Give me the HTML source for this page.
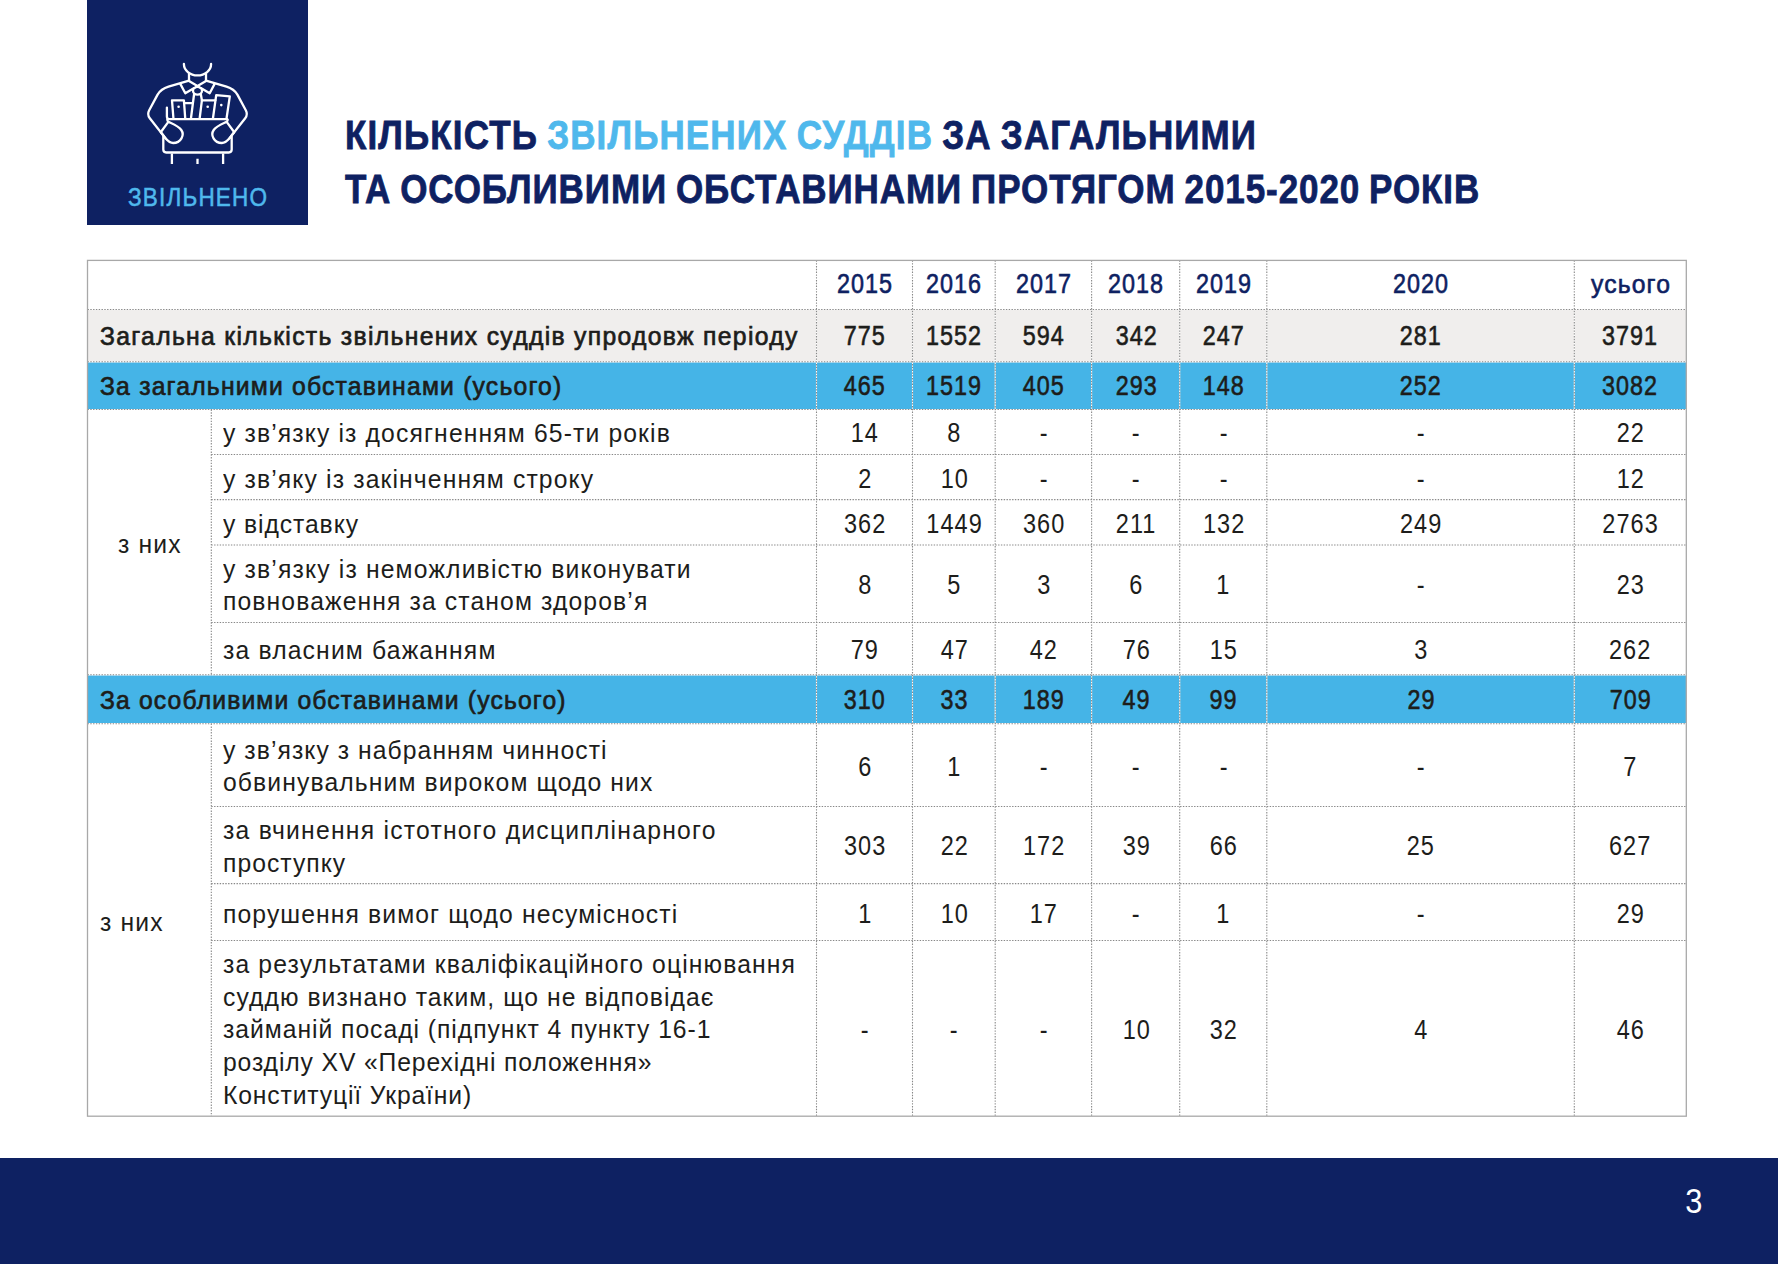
<!DOCTYPE html>
<html lang="uk"><head><meta charset="utf-8"><title>Кількість звільнених суддів</title>
<style>
html,body{margin:0;padding:0}
body{width:1778px;height:1264px;position:relative;overflow:hidden;background:#fff;font-family:"Liberation Sans", sans-serif;color:#1d1d1b}
.a{position:absolute}
.t{position:absolute;white-space:nowrap;line-height:1;font-size:26px}
.t span{display:inline-block;transform-origin:0 0;white-space:nowrap}
.c{position:absolute;width:200px;text-align:center;white-space:nowrap;line-height:1;font-size:28px}
.c span{display:inline-block;transform-origin:50% 0;transform:scaleX(0.84);letter-spacing:1.2px;margin-right:-1.2px}
.m span{-webkit-text-stroke-width:0.7px}
.c.m,.c.h{font-size:27.5px}
.c.m span,.c.h span{transform:scaleX(0.85);-webkit-text-stroke-width:0.6px}
.h{color:#0e2162}
</style></head><body>
<div class="a" style="left:87px;top:0;width:221px;height:225px;background:#0e2162"></div>
<svg class="a" style="left:87px;top:0" width="221" height="224" viewBox="87 0 221 224" fill="none" stroke="#fff" stroke-width="2.3" stroke-linecap="round" stroke-linejoin="round">
<path d="M183.9 64A13.6 11.4 0 0 0 211.1 64"/>
<path d="M189 73.5V80.6M206 73.5V80.6"/>
<path d="M189 80.6L168.5 86.6Q161 88.8 157.6 94.6L149.2 110.2Q146.9 114.4 149.8 118.2L165.6 138.4"/>
<path d="M206 80.6L226.5 86.6Q234 88.8 237.4 94.6L245.8 110.2Q248.1 114.4 245.2 118.2L229.4 138.4"/>
<path d="M189 80.9L209.7 93.2L214.6 83.9M206 80.9L185.3 93.2L180.3 83.9"/>
<ellipse cx="197.5" cy="90.8" rx="4.5" ry="3.9"/>
<path d="M194.1 94L191 118M200.8 94L201.9 100.2"/>
<path d="M173.4 118L172 100.3H183.9L185.2 118"/>
<path d="M184.2 103.1H192.8"/>
<path d="M199.7 118L201.9 100.3H215.4"/>
<path d="M213 118L216.2 95.1L229.8 96.4L226.6 118"/>
<circle cx="178.6" cy="106.7" r="1.3" fill="#fff" stroke="none"/><circle cx="207.7" cy="106.7" r="1.3" fill="#fff" stroke="none"/><circle cx="221.3" cy="105.1" r="1.3" fill="#fff" stroke="none"/>
<path d="M166.9 107.6V116.4Q166.9 119.1 169.6 119.1H227.2"/>
<path d="M167.3 119.8L168 121.6C173 124 178.5 126 181.3 130C184.8 135 181 143 173.1 143C169.5 143 167.5 140.6 165.6 138.4L160.9 132.2"/>
<path d="M227.7 119.8L227 121.6C222 124 216.5 126 213.7 130C210.2 135 214 143 221.9 143C225.5 143 227.5 140.6 229.4 138.4L234.1 132.2"/>
<path d="M160.9 132L167.8 122.6M234.1 132L227.2 122.6"/>
<path d="M163.3 136.5V149.6Q163.3 152.5 166.2 152.5H228.8Q231.7 152.5 231.7 149.6V136.5"/>
<path d="M171.9 153.5V163.9M223.1 153.5V163.9M197.5 158.8V163.9" stroke-linecap="butt"/>
</svg>
<div class="t" style="left:127.5px;top:184.74px;font-size:25px;color:#4fb8ec"><span style="transform:scaleX(0.9);letter-spacing:1.335px;-webkit-text-stroke-width:0.55px">ЗВІЛЬНЕНО</span></div>
<div class="t" style="left:344.8px;top:114.65px;font-size:40.7px;font-weight:700;color:#0e2162"><span style="transform:scaleX(0.86);letter-spacing:1.321px;word-spacing:-2px;-webkit-text-stroke-width:0.8px">КІЛЬКІСТЬ <b style="color:#4fb8ec">ЗВІЛЬНЕНИХ СУДДІВ</b> ЗА ЗАГАЛЬНИМИ</span></div>
<div class="t" style="left:344.7px;top:168.65px;font-size:40.7px;font-weight:700;color:#0e2162"><span style="transform:scaleX(0.86);letter-spacing:1.079px;word-spacing:-2px;-webkit-text-stroke-width:0.8px">ТА ОСОБЛИВИМИ ОБСТАВИНАМИ ПРОТЯГОМ 2015-2020 РОКІВ</span></div>
<svg class="a" style="left:0;top:0" width="1778" height="1264" viewBox="0 0 1778 1264"><rect x="87.5" y="310" width="1598.8" height="51.5" fill="#f0eeed"/><rect x="87.5" y="362.4" width="1598.8" height="46.6" fill="#45b4e7"/><rect x="87.5" y="675.4" width="1598.8" height="47.6" fill="#45b4e7"/><path d="M87.5 309.5H1686.3M87.5 361.8H1686.3M87.5 409.5H1686.3M211.3 454.5H1686.3M211.3 499.6H1686.3M211.3 545.0H1686.3M211.3 622.5H1686.3M87.5 674.7H1686.3M87.5 723.7H1686.3M211.3 806.5H1686.3M211.3 883.6H1686.3M211.3 940.5H1686.3M816.5 260.4V1116.2M912.5 260.4V1116.2M995.2 260.4V1116.2M1091.6 260.4V1116.2M1179.7 260.4V1116.2M1266.8 260.4V1116.2M1574.3 260.4V1116.2M211.3 409.5V674.7M211.3 723.7V1116.2" fill="none" stroke="#fff" stroke-width="1.1"/><path d="M87.5 309.5H1686.3M87.5 361.8H1686.3M87.5 409.5H1686.3M211.3 454.5H1686.3M211.3 499.6H1686.3M211.3 545.0H1686.3M211.3 622.5H1686.3M87.5 674.7H1686.3M87.5 723.7H1686.3M211.3 806.5H1686.3M211.3 883.6H1686.3M211.3 940.5H1686.3M816.5 260.4V1116.2M912.5 260.4V1116.2M995.2 260.4V1116.2M1091.6 260.4V1116.2M1179.7 260.4V1116.2M1266.8 260.4V1116.2M1574.3 260.4V1116.2M211.3 409.5V674.7M211.3 723.7V1116.2" fill="none" stroke="#888" stroke-width="1.1" stroke-dasharray="1.4 1.4"/><rect x="87.5" y="260.4" width="1598.8" height="855.8" fill="none" stroke="#a8a8a8" stroke-width="1.3"/></svg>
<div class="t m" style="left:99.6px;top:323.00px"><span style="transform:scaleX(0.95);letter-spacing:1.395px">Загальна кількість звільнених суддів упродовж періоду</span></div>
<div class="t m" style="left:99.6px;top:373.00px"><span style="transform:scaleX(0.95);letter-spacing:1.269px">За загальними обставинами (усього)</span></div>
<div class="t" style="left:223.2px;top:420.00px"><span style="transform:scaleX(0.95);letter-spacing:1.193px">у зв’язку із досягненням 65-ти років</span></div>
<div class="t" style="left:223.2px;top:466.00px"><span style="transform:scaleX(0.95);letter-spacing:1.199px">у зв’яку із закінченням строку</span></div>
<div class="t" style="left:223.2px;top:511.00px"><span style="transform:scaleX(0.95);letter-spacing:0.956px">у відставку</span></div>
<div class="t" style="left:223.2px;top:556.00px"><span style="transform:scaleX(0.95);letter-spacing:1.223px">у зв’язку із неможливістю виконувати</span></div>
<div class="t" style="left:223.2px;top:588.00px"><span style="transform:scaleX(0.95);letter-spacing:1.181px">повноваження за станом здоров’я</span></div>
<div class="t" style="left:223.2px;top:637.00px"><span style="transform:scaleX(0.95);letter-spacing:1.223px">за власним бажанням</span></div>
<div class="t m" style="left:99.6px;top:687.00px"><span style="transform:scaleX(0.95);letter-spacing:1.203px">За особливими обставинами (усього)</span></div>
<div class="t" style="left:223.2px;top:737.00px"><span style="transform:scaleX(0.95);letter-spacing:1.119px">у зв’язку з набранням чинності</span></div>
<div class="t" style="left:223.2px;top:769.00px"><span style="transform:scaleX(0.95);letter-spacing:1.171px">обвинувальним вироком щодо них</span></div>
<div class="t" style="left:223.2px;top:817.00px"><span style="transform:scaleX(0.95);letter-spacing:1.307px">за вчинення істотного дисциплінарного</span></div>
<div class="t" style="left:223.2px;top:850.00px"><span style="transform:scaleX(0.95);letter-spacing:1.072px">проступку</span></div>
<div class="t" style="left:223.2px;top:901.00px"><span style="transform:scaleX(0.95);letter-spacing:1.161px">порушення вимог щодо несумісності</span></div>
<div class="t" style="left:223.2px;top:951.00px"><span style="transform:scaleX(0.95);letter-spacing:1.189px">за результатами кваліфікаційного оцінювання</span></div>
<div class="t" style="left:223.2px;top:984.00px"><span style="transform:scaleX(0.95);letter-spacing:1.110px">суддю визнано таким, що не відповідає</span></div>
<div class="t" style="left:223.2px;top:1016.00px"><span style="transform:scaleX(0.95);letter-spacing:1.018px">займаній посаді (підпункт 4 пункту 16-1</span></div>
<div class="t" style="left:223.2px;top:1049.00px"><span style="transform:scaleX(0.95);letter-spacing:0.927px">розділу XV «Перехідні положення»</span></div>
<div class="t" style="left:223.2px;top:1082.00px"><span style="transform:scaleX(0.95);letter-spacing:0.902px">Конституції України)</span></div>
<div class="t" style="left:117.5px;top:531.00px"><span style="transform:scaleX(0.95);letter-spacing:1.216px">з них</span></div>
<div class="t" style="left:99.6px;top:909.00px"><span style="transform:scaleX(0.95);letter-spacing:1.216px">з них</span></div>
<div class="c h" style="left:764.5px;top:269.75px"><span>2015</span></div>
<div class="c h" style="left:853.9px;top:269.75px"><span>2016</span></div>
<div class="c h" style="left:943.4px;top:269.75px"><span>2017</span></div>
<div class="c h" style="left:1035.7px;top:269.75px"><span>2018</span></div>
<div class="c h" style="left:1123.2px;top:269.75px"><span>2019</span></div>
<div class="c h" style="left:1320.5px;top:269.75px"><span>2020</span></div>
<div class="c h" style="left:1530.5px;top:271.00px;font-size:26px"><span style="transform:scaleX(0.95);letter-spacing:1.171px;margin-right:-1.171px">усього</span></div>
<div class="c m" style="left:764.5px;top:321.75px"><span>775</span></div>
<div class="c m" style="left:853.9px;top:321.75px"><span>1552</span></div>
<div class="c m" style="left:943.4px;top:321.75px"><span>594</span></div>
<div class="c m" style="left:1035.7px;top:321.75px"><span>342</span></div>
<div class="c m" style="left:1123.2px;top:321.75px"><span>247</span></div>
<div class="c m" style="left:1320.5px;top:321.75px"><span>281</span></div>
<div class="c m" style="left:1529.7px;top:321.75px"><span>3791</span></div>
<div class="c m" style="left:764.5px;top:371.75px"><span>465</span></div>
<div class="c m" style="left:853.9px;top:371.75px"><span>1519</span></div>
<div class="c m" style="left:943.4px;top:371.75px"><span>405</span></div>
<div class="c m" style="left:1035.7px;top:371.75px"><span>293</span></div>
<div class="c m" style="left:1123.2px;top:371.75px"><span>148</span></div>
<div class="c m" style="left:1320.5px;top:371.75px"><span>252</span></div>
<div class="c m" style="left:1529.7px;top:371.75px"><span>3082</span></div>
<div class="c" style="left:764.5px;top:418.50px"><span>14</span></div>
<div class="c" style="left:853.9px;top:418.50px"><span>8</span></div>
<div class="c" style="left:943.4px;top:418.50px"><span>-</span></div>
<div class="c" style="left:1035.7px;top:418.50px"><span>-</span></div>
<div class="c" style="left:1123.2px;top:418.50px"><span>-</span></div>
<div class="c" style="left:1320.5px;top:418.50px"><span>-</span></div>
<div class="c" style="left:1529.7px;top:418.50px"><span>22</span></div>
<div class="c" style="left:764.5px;top:464.50px"><span>2</span></div>
<div class="c" style="left:853.9px;top:464.50px"><span>10</span></div>
<div class="c" style="left:943.4px;top:464.50px"><span>-</span></div>
<div class="c" style="left:1035.7px;top:464.50px"><span>-</span></div>
<div class="c" style="left:1123.2px;top:464.50px"><span>-</span></div>
<div class="c" style="left:1320.5px;top:464.50px"><span>-</span></div>
<div class="c" style="left:1529.7px;top:464.50px"><span>12</span></div>
<div class="c" style="left:764.5px;top:509.50px"><span>362</span></div>
<div class="c" style="left:853.9px;top:509.50px"><span>1449</span></div>
<div class="c" style="left:943.4px;top:509.50px"><span>360</span></div>
<div class="c" style="left:1035.7px;top:509.50px"><span>211</span></div>
<div class="c" style="left:1123.2px;top:509.50px"><span>132</span></div>
<div class="c" style="left:1320.5px;top:509.50px"><span>249</span></div>
<div class="c" style="left:1529.7px;top:509.50px"><span>2763</span></div>
<div class="c" style="left:764.5px;top:570.50px"><span>8</span></div>
<div class="c" style="left:853.9px;top:570.50px"><span>5</span></div>
<div class="c" style="left:943.4px;top:570.50px"><span>3</span></div>
<div class="c" style="left:1035.7px;top:570.50px"><span>6</span></div>
<div class="c" style="left:1123.2px;top:570.50px"><span>1</span></div>
<div class="c" style="left:1320.5px;top:570.50px"><span>-</span></div>
<div class="c" style="left:1529.7px;top:570.50px"><span>23</span></div>
<div class="c" style="left:764.5px;top:635.50px"><span>79</span></div>
<div class="c" style="left:853.9px;top:635.50px"><span>47</span></div>
<div class="c" style="left:943.4px;top:635.50px"><span>42</span></div>
<div class="c" style="left:1035.7px;top:635.50px"><span>76</span></div>
<div class="c" style="left:1123.2px;top:635.50px"><span>15</span></div>
<div class="c" style="left:1320.5px;top:635.50px"><span>3</span></div>
<div class="c" style="left:1529.7px;top:635.50px"><span>262</span></div>
<div class="c m" style="left:764.5px;top:685.75px"><span>310</span></div>
<div class="c m" style="left:853.9px;top:685.75px"><span>33</span></div>
<div class="c m" style="left:943.4px;top:685.75px"><span>189</span></div>
<div class="c m" style="left:1035.7px;top:685.75px"><span>49</span></div>
<div class="c m" style="left:1123.2px;top:685.75px"><span>99</span></div>
<div class="c m" style="left:1320.5px;top:685.75px"><span>29</span></div>
<div class="c m" style="left:1529.7px;top:685.75px"><span>709</span></div>
<div class="c" style="left:764.5px;top:752.50px"><span>6</span></div>
<div class="c" style="left:853.9px;top:752.50px"><span>1</span></div>
<div class="c" style="left:943.4px;top:752.50px"><span>-</span></div>
<div class="c" style="left:1035.7px;top:752.50px"><span>-</span></div>
<div class="c" style="left:1123.2px;top:752.50px"><span>-</span></div>
<div class="c" style="left:1320.5px;top:752.50px"><span>-</span></div>
<div class="c" style="left:1529.7px;top:752.50px"><span>7</span></div>
<div class="c" style="left:764.5px;top:831.50px"><span>303</span></div>
<div class="c" style="left:853.9px;top:831.50px"><span>22</span></div>
<div class="c" style="left:943.4px;top:831.50px"><span>172</span></div>
<div class="c" style="left:1035.7px;top:831.50px"><span>39</span></div>
<div class="c" style="left:1123.2px;top:831.50px"><span>66</span></div>
<div class="c" style="left:1320.5px;top:831.50px"><span>25</span></div>
<div class="c" style="left:1529.7px;top:831.50px"><span>627</span></div>
<div class="c" style="left:764.5px;top:899.50px"><span>1</span></div>
<div class="c" style="left:853.9px;top:899.50px"><span>10</span></div>
<div class="c" style="left:943.4px;top:899.50px"><span>17</span></div>
<div class="c" style="left:1035.7px;top:899.50px"><span>-</span></div>
<div class="c" style="left:1123.2px;top:899.50px"><span>1</span></div>
<div class="c" style="left:1320.5px;top:899.50px"><span>-</span></div>
<div class="c" style="left:1529.7px;top:899.50px"><span>29</span></div>
<div class="c" style="left:764.5px;top:1015.50px"><span>-</span></div>
<div class="c" style="left:853.9px;top:1015.50px"><span>-</span></div>
<div class="c" style="left:943.4px;top:1015.50px"><span>-</span></div>
<div class="c" style="left:1035.7px;top:1015.50px"><span>10</span></div>
<div class="c" style="left:1123.2px;top:1015.50px"><span>32</span></div>
<div class="c" style="left:1320.5px;top:1015.50px"><span>4</span></div>
<div class="c" style="left:1529.7px;top:1015.50px"><span>46</span></div>
<div class="a" style="left:0;top:1157.5px;width:1778px;height:107px;background:#0e2162"></div>
<div class="c" style="left:1594px;top:1183.00px;font-size:35px;color:#fff"><span style="transform:scaleX(0.88);-webkit-text-stroke-width:0;letter-spacing:0;margin:0">3</span></div>
</body></html>
